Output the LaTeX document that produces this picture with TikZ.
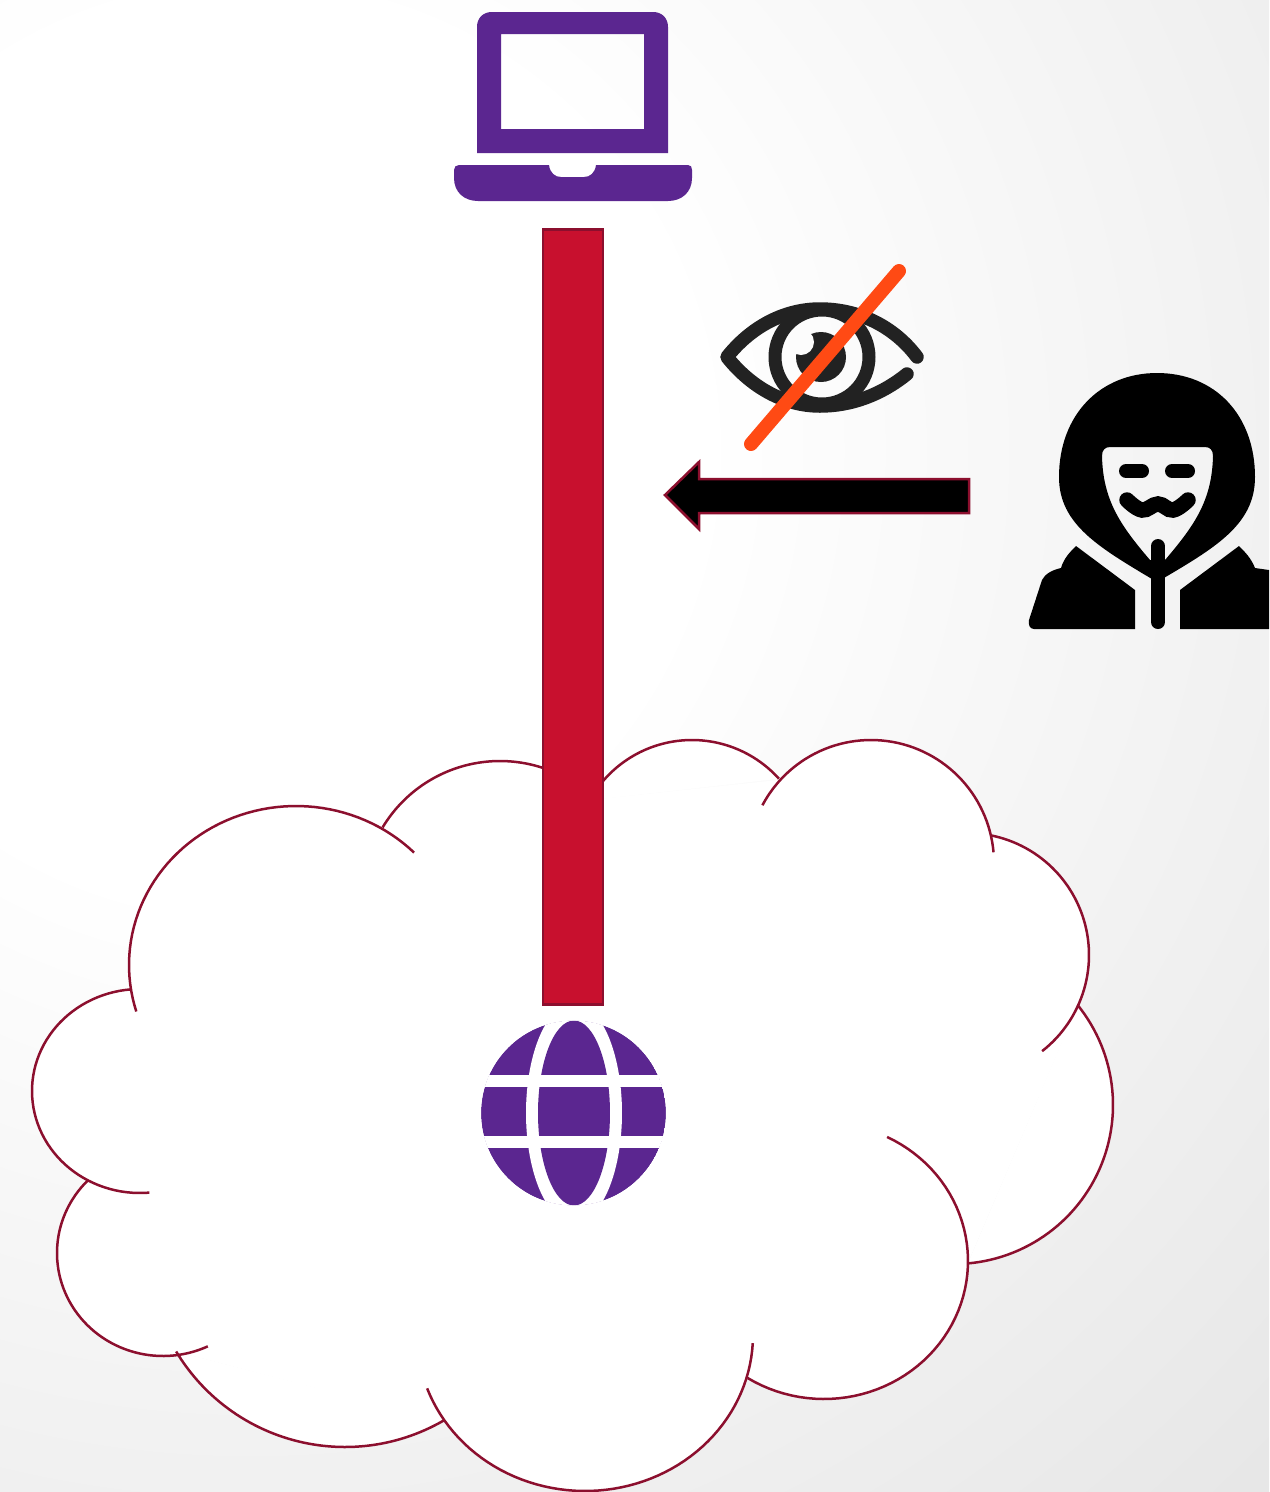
\documentclass[tikz,border=0pt]{standalone}
\usepackage{tikz}
\usetikzlibrary{arrows.meta,positioning}

\definecolor{vpnpurple}{HTML}{5B2690}
\definecolor{tunnelred}{HTML}{C8102E}
\definecolor{cloudline}{HTML}{8C0F2E}
\definecolor{slashorange}{HTML}{FF4A14}
\definecolor{eyegrey}{HTML}{222222}
\pgfdeclareradialshading{bgglow}{\pgfpointorigin}{color(0bp)=(white);color(7.5bp)=(white);color(25bp)=(black!10);color(50bp)=(black!10)}

% one lobe of the cloud per line: centre, radii, start and end angle
\def\cloudlobes{296/965/167/159/163/315, 500/898/137/137/211/300, 692/857/117/117/209/318,
  871/863/123/123/208/355, 967/955/122/122/281/412, 954/1105/159/159/-39/85,
  824/1261/144/138/-64/122, 585/1335/168/156/3/160, 345/1250/197/197/60/149,
  163/1253/106/103/65/225, 140/1091/108/102/85/265}

\begin{document}
\begin{tikzpicture}[x=0.02cm, y=-0.02cm, lobe/.style={domain=\ta:\tb, samples=60}]
  \useasboundingbox (0,0) rectangle (1269,1492);

  % Fond
  \begin{scope}
    \clip (0,0) rectangle (1269,1492);
    \shade[shading=bgglow] (250,450) circle[radius=30cm];
  \end{scope}

  % Nuage
  \foreach \cx/\cy/\rx/\ry/\ta/\tb in \cloudlobes {
    \fill[white, lobe] plot ({\cx+\rx*cos(\x)},{\cy+\ry*sin(\x)}) -- cycle;
  }
  \fill[white] (383,827) -- (590,800) -- (778,780) -- (990,835) -- (1078,1005) -- (968,1263)
    -- (746,1379) -- (445,1422) -- (178,1352) -- (88,1180) -- (131,989) -- cycle;
  \foreach \cx/\cy/\rx/\ry/\ta/\tb in \cloudlobes {
    \draw[cloudline, line width=0.05cm, lobe] plot ({\cx+\rx*cos(\x)},{\cy+\ry*sin(\x)});
  }

  % Tunnel
  \filldraw[fill=tunnelred, draw=cloudline, line width=0.05cm] (543,229.5) rectangle (603,1004.5);

  % Portable
  \fill[vpnpurple, even odd rule] (477,153) -- (477,27) .. controls (477,18) and (483,12) .. (492,12)
    -- (653,12) .. controls (662,12) and (668,18) .. (668,27) -- (668,153) -- cycle
    (501,34) rectangle (644,129);
  \fill[vpnpurple] (459,165) -- (549,165) .. controls (550,173) and (555,177) .. (561,177) -- (584,177)
    .. controls (590,177) and (595,173) .. (596,165) -- (688,165) .. controls (691,165) and (692,167) .. (692,170)
    -- (692,178) .. controls (692,192) and (682,201) .. (668,201) -- (478,201)
    .. controls (464,201) and (454,192) .. (454,178) -- (454,170) .. controls (454,167) and (456,165) .. (459,165) -- cycle;

  % Globe
  \begin{scope}
    \clip (573.5,1113) circle[radius=1.85cm];
    \fill[vpnpurple] (573.5,1113) circle[radius=1.85cm];
    \fill[white] (574,1113) ellipse[x radius=0.96cm, y radius=2.2cm];
    \fill[vpnpurple] (574,1113) ellipse[x radius=0.72cm, y radius=1.85cm];
    \fill[white] (470,1075) rectangle (680,1087);
    \fill[white] (470,1136) rectangle (680,1148);
  \end{scope}
  \draw[white, line width=0.03cm] (573.5,1113) circle[radius=1.865cm];

  % Oeil
  \draw[eyegrey, line width=0.27cm, line cap=round, line join=round]
    (917,357) .. controls (893,325) and (857,309) .. (820,309) .. controls (783,309) and (750,328) .. (727,357)
    .. controls (750,386) and (783,406) .. (820,406) .. controls (851,406) and (881,395) .. (907,374);
  \draw[eyegrey, line width=0.26cm] (822,357) circle[radius=0.94cm];
  \fill[eyegrey] (821,357) circle[radius=0.5cm];
  \fill[white!99!black] (801,342) circle[radius=0.26cm];
  \draw[slashorange, line width=0.28cm, line cap=round] (751,444) -- (899,271);

  % Fleche
  \filldraw[fill=black, draw=cloudline, line width=0.05cm] (969,479) -- (699,479) -- (699,462) -- (665,495)
    -- (699,529) -- (699,513) -- (969,513) -- cycle;

  % Capuche et masque
  \fill[black, even odd rule] (1157,582) .. controls (1100,548) and (1059,525) .. (1059,477)
    .. controls (1059,415) and (1100,373) .. (1157,373) .. controls (1215,373) and (1255,415) .. (1255,477)
    .. controls (1255,525) and (1215,548) .. (1157,582) -- cycle
    (1110,447) -- (1205,447) .. controls (1210,447) and (1213,450) .. (1213,456)
    .. controls (1212,500) and (1195,525) .. (1165,560) -- (1150,560)
    .. controls (1120,525) and (1103,500) .. (1102,456) .. controls (1102,450) and (1105,447) .. (1110,447) -- cycle;
  \draw[black, line width=0.28cm, line cap=round] (1158,546) -- (1158,622);
  \draw[black, line width=0.28cm, line cap=round] (1126,471) -- (1142,471);
  \draw[black, line width=0.28cm, line cap=round] (1172,471) -- (1188,471);
  \draw[black, line width=0.31cm, line cap=round] plot[smooth, tension=0.7] coordinates {(1127,500) (1142,510) (1158,504) (1173,510) (1188,500)};

  % Epaules
  \fill[black] (1076,546) -- (1135,590) -- (1135,629) -- (1034,629) .. controls (1030,629) and (1028,625) .. (1029,620)
    -- (1042,580) .. controls (1045,574) and (1052,570) .. (1061,568) .. controls (1064,558) and (1070,552) .. (1076,546) -- cycle;
  \fill[black] (1239,546) -- (1180,590) -- (1180,629) -- (1269,629) -- (1269,570) -- (1255,568)
    .. controls (1251,558) and (1245,552) .. (1239,546) -- cycle;
\end{tikzpicture}
\end{document}
